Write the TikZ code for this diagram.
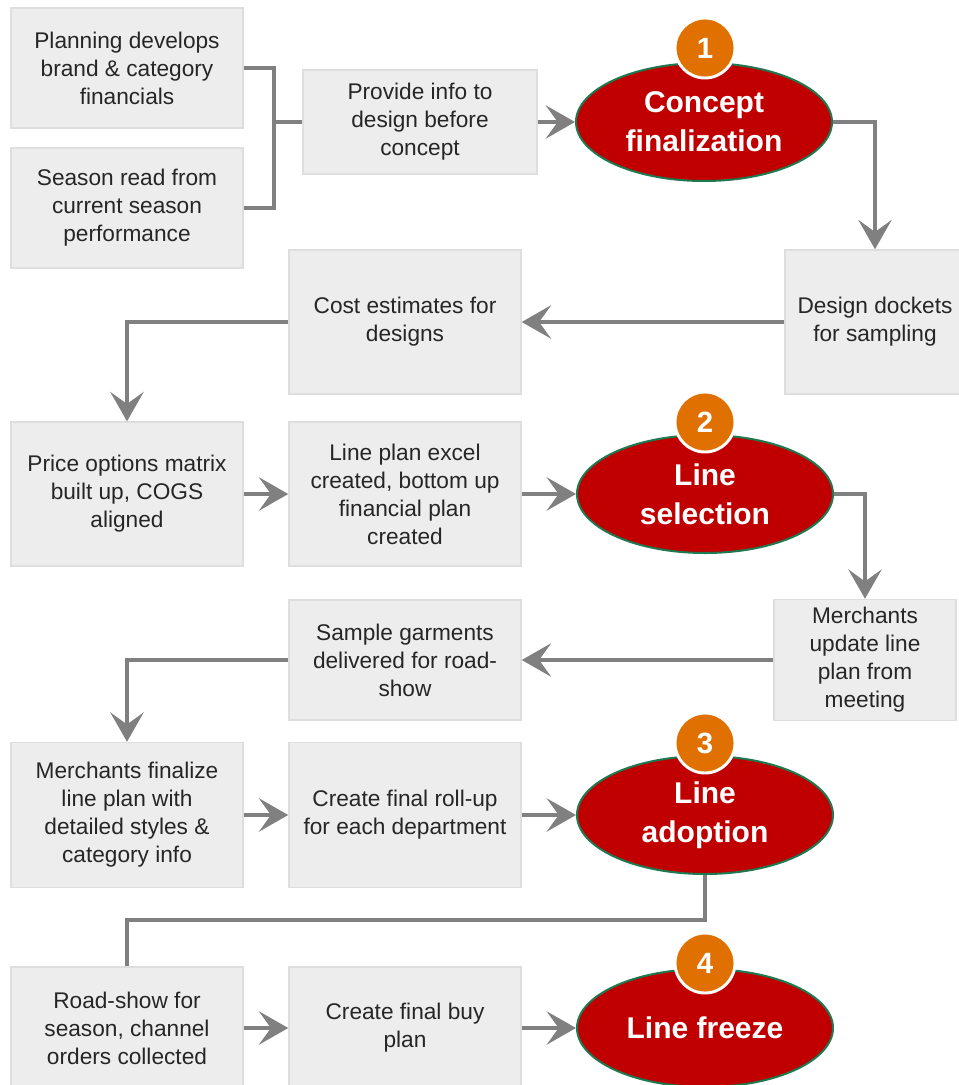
\documentclass[tikz,border=0pt]{standalone}
\usepackage{fontspec}
\setmainfont{Liberation Sans}
\usetikzlibrary{shapes, shapes.geometric, arrows.meta, positioning, calc}
\definecolor{boxgray}{RGB}{237, 237, 237}
\definecolor{boxedge}{RGB}{222, 222, 222}
\definecolor{stagered}{RGB}{192, 0, 0}
\definecolor{stagegreen}{RGB}{30, 120, 80}
\definecolor{badgeorange}{RGB}{224, 112, 0}
\definecolor{linkgray}{RGB}{128, 128, 128}

\tikzset{
  stepbox/.style={draw=boxedge, fill=boxgray, line width=1.1pt, minimum width=174pt, minimum height=108pt,
    inner sep=2pt, align=center, text=black!85, font=\fontsize{17}{21}\selectfont},
  stage/.style={ellipse, draw=stagegreen, fill=stagered, line width=1.5pt, minimum width=192pt, minimum height=88.5pt,
    inner sep=0pt, align=center, text=white, font=\bfseries\fontsize{22.5}{29}\selectfont},
  badge/.style={circle, draw=white, fill=badgeorange, line width=2.2pt, minimum size=45pt, inner sep=0pt,
    text=white, font=\bfseries\fontsize{22}{22}\selectfont},
  link/.style={draw=linkgray, line width=2.5pt},
  flow/.style={link, -{Stealth[length=22pt, width=25pt, inset=9pt]}}
}

\begin{document}
\begin{tikzpicture}[x=0.75pt, y=-0.75pt]
  \useasboundingbox (0,0) rectangle (959,1085);

  % Inputs to concept
  \node[stepbox, minimum height=90pt] (plan) at (127,68) {Planning develops\\brand \& category\\financials};
  \node[stepbox, minimum height=90pt] (season) at (127,208) {Season read from\\current season\\performance};
  \node[stepbox, minimum width=175.5pt, minimum height=78pt] (provide) at (420,122) {Provide info to\\design before\\concept};

  % Stage 1
  \node[stage] (concept) at (704,122) {Concept\\finalization};
  \node[badge] (one) at (705,48) {1};

  % Design and costing
  \node[stepbox, minimum width=135pt] (dockets) at (875,322) {Design dockets\\for sampling};
  \node[stepbox] (cost) at (405,322) {Cost estimates for\\designs};
  \node[stepbox] (price) at (127,494) {Price options matrix\\built up, COGS\\aligned};
  \node[stepbox] (lineplan) at (405,494) {Line plan excel\\created, bottom up\\financial plan\\created};

  % Stage 2
  \node[stage] (selection) at (705,494) {Line\\selection};
  \node[badge] (two) at (705,422) {2};

  % Samples
  \node[stepbox, minimum width=136.5pt, minimum height=90.75pt] (update) at (865,660) {Merchants\\update line\\plan from\\meeting};
  \node[stepbox, minimum height=90pt] (sample) at (405,660) {Sample garments\\delivered for road-\\show};
  \node[stepbox, minimum height=108.75pt] (finalize) at (127,815) {Merchants finalize\\line plan with\\detailed styles \&\\category info};
  \node[stepbox, minimum height=108.75pt] (rollup) at (405,815) {Create final roll-up\\for each department};

  % Stage 3
  \node[stage] (adoption) at (705,815) {Line\\adoption};
  \node[badge] (three) at (705,743) {3};

  % Buy plan
  \node[stepbox, minimum height=91.5pt] (roadshow) at (127,1028) {Road-show for\\season, channel\\orders collected};
  \node[stepbox, minimum height=91.5pt] (buyplan) at (405,1028) {Create final buy\\plan};

  % Stage 4
  \node[stage] (freeze) at (705,1028) {Line freeze};
  \node[badge] (four) at (705,963) {4};

  % Connectors
  \coordinate (joint) at (274,122);
  \draw[link] (plan.east) -| (joint) |- (season.east);
  \draw[link] (joint) -- (provide.west);
  \draw[flow] (provide.east) -- (concept.west);
  \draw[flow] (concept.east) -| (dockets.north);
  \draw[flow] (dockets.west) -- (cost.east);
  \draw[flow] (cost.west) -| (price.north);
  \draw[flow] (price.east) -- (lineplan.west);
  \draw[flow] (lineplan.east) -- (selection.west);
  \draw[flow] (selection.east) -| (update.north);
  \draw[flow] (update.west) -- (sample.east);
  \draw[flow] (sample.west) -| (finalize.north);
  \draw[flow] (finalize.east) -- (rollup.west);
  \draw[flow] (rollup.east) -- (adoption.west);
  \coordinate (turn) at (127,920);
  \draw[link] (adoption.south) |- (turn) -- (roadshow.north);
  \draw[flow] (roadshow.east) -- (buyplan.west);
  \draw[flow] (buyplan.east) -- (freeze.west);
\end{tikzpicture}
\end{document}
